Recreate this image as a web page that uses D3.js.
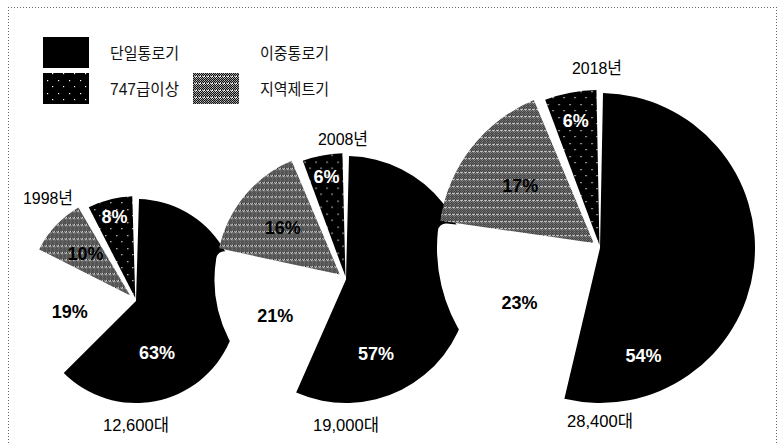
<!DOCTYPE html>
<html><head><meta charset="utf-8">
<script src="https://cdn.jsdelivr.net/npm/d3@7"></script>
<style>body{margin:0;background:#fff}svg{display:block}</style>
</head><body><svg id="c" width="783" height="444"></svg>
<script>
// ---- data ----
const years = ["1998년", "2008년", "2018년"];
const totals = [12600, 19000, 28400];
const categories = ["단일통로기", "이중통로기", "지역제트기", "747급이상"]; // clockwise pie order
const singleAisle = [63, 57, 54];
const twinAisle = [19, 21, 23];
const regionalJet = [10, 16, 17];
const jumbo = [8, 6, 6];
const legendRows = [["단일통로기", "이중통로기"], ["747급이상", "지역제트기"]];

// ---- layout / style ----
const W = 783, H = 444;
const svg = d3.select("#c");
const FONT = "'Liberation Sans','Noto Sans CJK KR',Arial,sans-serif";
const centerX = [136, 346, 600];
const baseY = 403;
const rScale = d3.scaleLinear().domain([12600, 28400]).range([102, 155]);
const mainLabelDist = d3.scaleLinear().domain([102, 155]).range([56, 116]);
const explode = {"단일통로기": 0, "이중통로기": 0, "지역제트기": 8, "747급이상": 3};
const drawOrder = {"이중통로기": 0, "단일통로기": 1, "지역제트기": 2, "747급이상": 3};
const yearLabelPos = [[48, 198], [343, 139], [597, 68]];
const totalLabelY = [425, 425, 421];

const defs = svg.append("defs");
// halftone pattern (regional jets)
const ph = defs.append("pattern").attr("id", "hatch").attr("patternUnits", "userSpaceOnUse")
  .attr("width", 4).attr("height", 7);
ph.append("rect").attr("width", 4).attr("height", 7).attr("fill", "#fff");
const hatchDots = [];
for (let y = 0; y < 6; y++) for (let x = (y % 2); x < 4; x += 2) hatchDots.push([x, y]);
hatchDots.push([1, 6]);
ph.selectAll("rect.d").data(hatchDots).join("rect").attr("class", "d")
  .attr("x", d => d[0]).attr("y", d => d[1]).attr("width", 1.25).attr("height", 1.25).attr("fill", "#111");
// black with sparse white specks (747+)
const pj = defs.append("pattern").attr("id", "speck").attr("patternUnits", "userSpaceOnUse")
  .attr("width", 11).attr("height", 13);
pj.append("rect").attr("width", 11).attr("height", 13).attr("fill", "#000");
pj.selectAll("rect.s").data([[3, 2], [8, 8]]).join("rect").attr("class", "s")
  .attr("x", d => d[0]).attr("y", d => d[1]).attr("width", 1.2).attr("height", 1.2).attr("fill", "#fff");

const fills = {"단일통로기": "#000", "이중통로기": "#fff", "지역제트기": "url(#hatch)", "747급이상": "url(#speck)"};
const labelColor = {"단일통로기": "#fff", "이중통로기": "#000", "지역제트기": "#000", "747급이상": "#fff"};

// ---- frame (dotted) ----
const frame = svg.append("g").attr("stroke", "#666").attr("stroke-width", 1).attr("stroke-dasharray", "1,2");
frame.append("line").attr("x1", 8).attr("x2", 776).attr("y1", 7.5).attr("y2", 7.5);
frame.append("line").attr("x1", 8.5).attr("x2", 8.5).attr("y1", 7).attr("y2", H);
frame.append("line").attr("x1", 776.5).attr("x2", 776.5).attr("y1", 7).attr("y2", H);

// ---- legend ----
const legend = svg.append("g");
const legColX = [[43, 110], [193, 260]];
const legRowY = [37, 73];
legendRows.forEach((row, ri) => row.forEach((name, ci) => {
  legend.append("rect").attr("x", legColX[ci][0]).attr("y", legRowY[ri])
    .attr("width", 46).attr("height", 31).attr("fill", fills[name]);
  legend.append("text").attr("x", legColX[ci][1]).attr("y", legRowY[ri] + 16).attr("dy", "0.35em")
    .attr("font-family", FONT).attr("font-size", 16).attr("fill", "#111")
    .attr("textLength", 69).attr("lengthAdjust", "spacingAndGlyphs").text(name);
}));

// ---- pies ----
const pie = d3.pie().sort(null).value(d => d.value);
years.forEach((yr, i) => {
  const r = rScale(totals[i]);
  const cx = centerX[i], cy = baseY - r;
  const vals = [singleAisle[i], twinAisle[i], regionalJet[i], jumbo[i]];
  const arcs = pie(categories.map((c, k) => ({cat: c, value: vals[k]})));
  const arc = d3.arc().innerRadius(0).outerRadius(r).padAngle(0.06).padRadius(100);
  const g = svg.append("g").attr("transform", `translate(${cx},${cy})`);
  const off = d => {
    const a = (d.startAngle + d.endAngle) / 2, e = explode[d.data.cat];
    return [Math.sin(a) * e, -Math.cos(a) * e];
  };
  g.selectAll("path").data(arcs.slice().sort((a, b) => drawOrder[a.data.cat] - drawOrder[b.data.cat]))
    .join("path")
    .attr("d", arc)
    .attr("transform", d => `translate(${off(d)})`)
    .attr("fill", d => fills[d.data.cat])
    .attr("stroke", d => d.data.cat === "이중통로기" ? "#fff" : "none")
    .attr("stroke-width", 16).attr("stroke-linejoin", "round");

  // percentage labels
  const labelPos = d => {
    const c = d.data.cat;
    let a = (d.startAngle + d.endAngle) / 2, dist;
    if (c === "단일통로기") { a = 158 * Math.PI / 180; dist = mainLabelDist(r); }
    else if (c === "이중통로기") dist = 0.57 * r + 9;
    else if (c === "지역제트기") dist = 0.6 * r + explode[c];
    else dist = 0.82 * r + explode[c];
    return [Math.sin(a) * dist, -Math.cos(a) * dist];
  };
  g.selectAll("text.pct").data(arcs).join("text").attr("class", "pct")
    .attr("x", d => labelPos(d)[0]).attr("y", d => labelPos(d)[1]).attr("dy", "0.35em")
    .attr("text-anchor", "middle").attr("font-family", FONT).attr("font-weight", "bold")
    .attr("font-size", 18).attr("fill", d => labelColor[d.data.cat])
    .text(d => d.data.value + "%");

  // year label
  svg.append("text").attr("x", yearLabelPos[i][0]).attr("y", yearLabelPos[i][1]).attr("dy", "0.35em")
    .attr("text-anchor", "middle").attr("font-family", FONT).attr("font-size", 17).attr("fill", "#000")
    .attr("textLength", 50).attr("lengthAdjust", "spacingAndGlyphs").text(yr);
  // total label
  svg.append("text").attr("x", cx).attr("y", totalLabelY[i]).attr("dy", "0.35em")
    .attr("text-anchor", "middle").attr("font-family", FONT).attr("font-size", 17).attr("fill", "#000")
    .attr("textLength", 66).attr("lengthAdjust", "spacingAndGlyphs")
    .text(d3.format(",")(totals[i]) + "대");
});
</script></body></html>
